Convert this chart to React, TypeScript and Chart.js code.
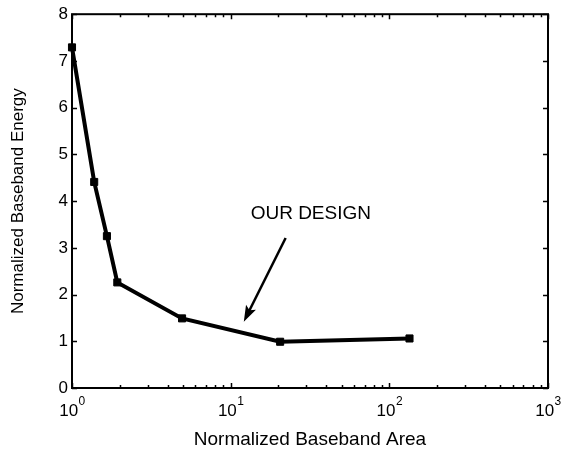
import React, { useEffect, useRef } from 'react';
import { Chart, registerables } from 'chart.js';

Chart.register(...registerables);

// ---- data ----
const AREA = [1, 1.38, 1.66, 1.93, 4.94, 20.5, 134];
const ENERGY = [7.29, 4.41, 3.25, 2.26, 1.49, 0.99, 1.06];

const X_MAJOR_TICKS = [1, 10, 100, 1000];
const X_TICK_BASE = '10';
const X_TICK_EXPONENTS = ['0', '1', '2', '3'];
const Y_TICKS = [0, 1, 2, 3, 4, 5, 6, 7, 8];

const X_TITLE = 'Normalized Baseband Area';
const Y_TITLE = 'Normalized Baseband Energy';

const ANNOTATION_TEXT = 'OUR DESIGN';
const ANNOTATION_AT = { x: 32, y: 3.72 };
const ARROW_FROM = { x: 22.2, y: 3.21 };
const ARROW_TO = { x: 12.1, y: 1.42 };

const FONT = '"Liberation Sans", Arial, Helvetica, sans-serif';

const framePlugin = {
  id: 'matlabFrame',
  beforeDatasetsDraw(chart: any) {
    const { ctx, chartArea: a, scales } = chart;
    const xs = scales.x;
    const ys = scales.y;
    ctx.save();
    ctx.strokeStyle = '#000';
    ctx.lineWidth = 2;
    ctx.strokeRect(a.left, a.top, a.right - a.left, a.bottom - a.top);
    ctx.lineWidth = 1.5;
    ctx.beginPath();
    for (const v of Y_TICKS) {
      const py = Math.round(ys.getPixelForValue(v)) + 0.5;
      ctx.moveTo(a.left, py);
      ctx.lineTo(a.left + 5, py);
      ctx.moveTo(a.right, py);
      ctx.lineTo(a.right - 5, py);
    }
    for (const v of X_MAJOR_TICKS) {
      const px = Math.round(xs.getPixelForValue(v)) + 0.5;
      ctx.moveTo(px, a.bottom);
      ctx.lineTo(px, a.bottom - 5);
      ctx.moveTo(px, a.top);
      ctx.lineTo(px, a.top + 5);
    }
    for (let i = 0; i < X_MAJOR_TICKS.length - 1; i++) {
      for (let k = 2; k <= 9; k++) {
        const px = Math.round(xs.getPixelForValue(X_MAJOR_TICKS[i] * k)) + 0.5;
        ctx.moveTo(px, a.bottom);
        ctx.lineTo(px, a.bottom - 3);
        ctx.moveTo(px, a.top);
        ctx.lineTo(px, a.top + 3);
      }
    }
    ctx.stroke();
    ctx.restore();
  },
  afterDatasetsDraw(chart: any) {
    const { ctx, chartArea: a, scales } = chart;
    const xs = scales.x;
    const ys = scales.y;
    ctx.save();
    ctx.fillStyle = '#000';
    ctx.strokeStyle = '#000';

    // x tick labels: 10 with superscript exponent
    X_MAJOR_TICKS.forEach((v, i) => {
      const px = xs.getPixelForValue(v);
      ctx.font = `17px ${FONT}`;
      const w1 = ctx.measureText(X_TICK_BASE).width;
      ctx.font = `12px ${FONT}`;
      const w2 = ctx.measureText(X_TICK_EXPONENTS[i]).width;
      const x0 = px - (w1 + w2) / 2;
      ctx.textAlign = 'left';
      ctx.textBaseline = 'alphabetic';
      ctx.font = `17px ${FONT}`;
      ctx.fillText(X_TICK_BASE, x0, a.bottom + 28);
      ctx.font = `12px ${FONT}`;
      ctx.fillText(X_TICK_EXPONENTS[i], x0 + w1 + 0.5, a.bottom + 17);
    });

    // annotation text
    ctx.font = `19px ${FONT}`;
    ctx.textAlign = 'center';
    ctx.textBaseline = 'middle';
    ctx.fillText(
      ANNOTATION_TEXT,
      xs.getPixelForValue(ANNOTATION_AT.x),
      ys.getPixelForValue(ANNOTATION_AT.y)
    );

    // arrow
    const x1 = xs.getPixelForValue(ARROW_FROM.x);
    const y1 = ys.getPixelForValue(ARROW_FROM.y);
    const x2 = xs.getPixelForValue(ARROW_TO.x);
    const y2 = ys.getPixelForValue(ARROW_TO.y);
    const ang = Math.atan2(y2 - y1, x2 - x1);
    const len = 17;
    const half = (19 * Math.PI) / 180;
    const bx = Math.cos(ang + Math.PI);
    const by = Math.sin(ang + Math.PI);
    ctx.lineWidth = 2.5;
    ctx.beginPath();
    ctx.moveTo(x1, y1);
    ctx.lineTo(x2 + bx * len * 0.7, y2 + by * len * 0.7);
    ctx.stroke();
    ctx.beginPath();
    ctx.moveTo(x2, y2);
    ctx.lineTo(x2 + Math.cos(ang + Math.PI - half) * len, y2 + Math.sin(ang + Math.PI - half) * len);
    ctx.lineTo(x2 + bx * len * 0.75, y2 + by * len * 0.75);
    ctx.lineTo(x2 + Math.cos(ang + Math.PI + half) * len, y2 + Math.sin(ang + Math.PI + half) * len);
    ctx.closePath();
    ctx.fill();
    ctx.restore();
  },
};

export default function App() {
  const ref = useRef<HTMLCanvasElement | null>(null);

  useEffect(() => {
    document.body.style.margin = '0';
    const canvas = ref.current;
    if (!canvas) return;
    const chart = new Chart(canvas, {
      type: 'line',
      data: {
        datasets: [
          {
            data: AREA.map((x, i) => ({ x, y: ENERGY[i] })),
            borderColor: '#000',
            backgroundColor: '#000',
            borderWidth: 4,
            pointStyle: 'rect',
            pointRadius: 5,
            pointBorderWidth: 1,
            pointBackgroundColor: '#000',
            pointBorderColor: '#000',
            tension: 0,
            clip: false as any,
          },
        ],
      },
      options: {
        animation: false,
        responsive: false,
        devicePixelRatio: 1,
        layout: { padding: { top: 14, right: 23, left: 0, bottom: 0 } },
        plugins: {
          legend: { display: false },
          tooltip: { enabled: false },
        },
        scales: {
          x: {
            type: 'logarithmic',
            min: 1,
            max: 1000,
            grid: { display: false, drawTicks: false, tickLength: 0 },
            border: { display: false },
            ticks: { display: false },
            afterBuildTicks: (scale: any) => {
              scale.ticks = X_MAJOR_TICKS.map((v) => ({ value: v }));
            },
            afterFit: (scale: any) => {
              scale.height = 61;
            },
            title: {
              display: true,
              text: X_TITLE,
              color: '#000',
              font: { family: FONT, size: 19, lineHeight: 1 },
              padding: { top: 0, bottom: 0 },
            },
          },
          y: {
            type: 'linear',
            min: 0,
            max: 8,
            grid: { display: false, drawTicks: false, tickLength: 0 },
            border: { display: false },
            afterBuildTicks: (scale: any) => {
              scale.ticks = Y_TICKS.map((v) => ({ value: v }));
            },
            ticks: {
              color: '#000',
              padding: 4,
              font: { family: FONT, size: 17 },
              callback: (v: any) => String(v),
            },
            afterFit: (scale: any) => {
              scale.width = 72;
            },
            title: {
              display: true,
              text: Y_TITLE,
              color: '#000',
              font: { family: FONT, size: 17, lineHeight: 1 },
              padding: { top: 10, bottom: 0 },
            },
          },
        },
      },
      plugins: [framePlugin],
    });
    return () => chart.destroy();
  }, []);

  return (
    <div style={{ width: 571, height: 449, background: '#fff' }}>
      <canvas ref={ref} width={571} height={449} style={{ display: 'block' }} />
    </div>
  );
}
